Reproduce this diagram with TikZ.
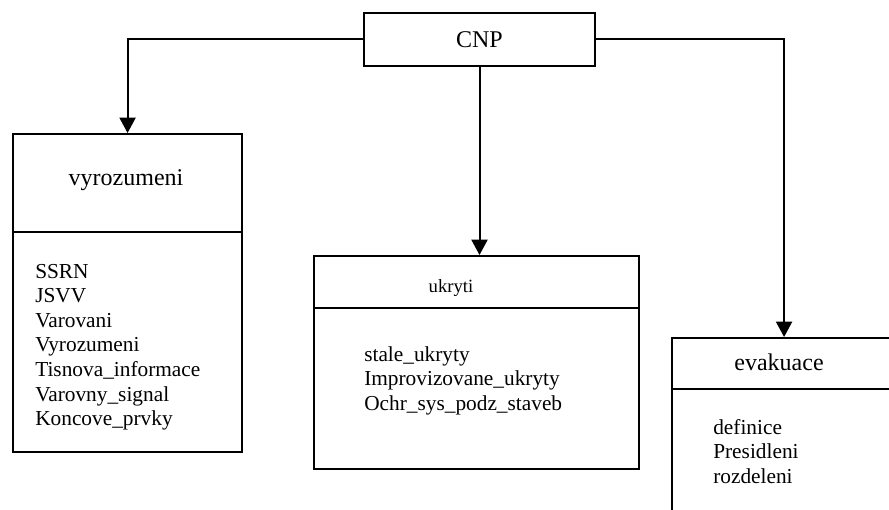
\documentclass[tikz,border=0pt]{standalone}
\usepackage{fontspec}
\setmainfont{Liberation Serif}
\usetikzlibrary{arrows.meta}
\begin{document}
\begin{tikzpicture}[x=0.75pt,y=-0.75pt]
        \tikzstyle{box}=[draw=black,line width=1.6pt,inner sep=0pt,anchor=north west]
        \tikzstyle{conn}=[draw,line width=1.5pt,-{Triangle[length=11.5pt,width=12pt]}]
        \tikzstyle{title}=[inner sep=0pt,anchor=base,font=\fontsize{18}{21}\selectfont]
        \tikzstyle{item}=[inner sep=0pt,anchor=base west,font=\fontsize{16}{19}\selectfont]
        \useasboundingbox (0,0) rectangle (889,510);
        \clip (0,0) rectangle (889,510);
        % top box
        \node [box,anchor=center,minimum width=173.25pt,minimum height=39.75pt,
               font=\fontsize{18}{21}\selectfont] (cnp) at (479.5,39.5) {CNP};
        % the three boxes
        \node [box,minimum width=171.75pt,minimum height=238.5pt] (vyr) at (12,133) {};
        \node [box,minimum width=243.75pt,minimum height=159.75pt] (ukr) at (313,255) {};
        \node [box,minimum width=168pt,minimum height=152.25pt] (eva) at (671,337) {};
        \draw [line width=1.6pt] (vyr.west |- 0,232) -- (vyr.east |- 0,232);
        \draw [line width=1.6pt] (ukr.west |- 0,308) -- (ukr.east |- 0,308);
        \draw [line width=1.6pt] (eva.west |- 0,389) -- (eva.east |- 0,389);
        \node [title] (vyrt) at (126,185) {vyrozumeni};
        \node [title,font=\fontsize{14}{17}\selectfont] (ukrt) at (451,292) {ukryti};
        \node [title] (evat) at (779,370) {evakuace};
        \foreach \t [count=\i] in {SSRN,JSVV,Varovani,Vyrozumeni,Tisnova\_informace,Varovny\_signal,Koncove\_prvky}
          \node [item] (vyr\i) at (35,{278+(\i-1)*24.6}) {\t};
        \foreach \t [count=\i] in {stale\_ukryty,Improvizovane\_ukryty,Ochr\_sys\_podz\_staveb}
          \node [item] (ukr\i) at (364,{361+(\i-1)*24.5}) {\t};
        \foreach \t [count=\i] in {definice,Presidleni,rozdeleni}
          \node [item] (eva\i) at (713,{434+(\i-1)*24.5}) {\t};
        % connectors
        \path[conn] (cnp.west) -| (vyr.north);
        \path[conn] (cnp) -- (cnp |- ukr.north);
        \path[conn] (cnp.east) -| (eva.north);
\end{tikzpicture}
\end{document}
